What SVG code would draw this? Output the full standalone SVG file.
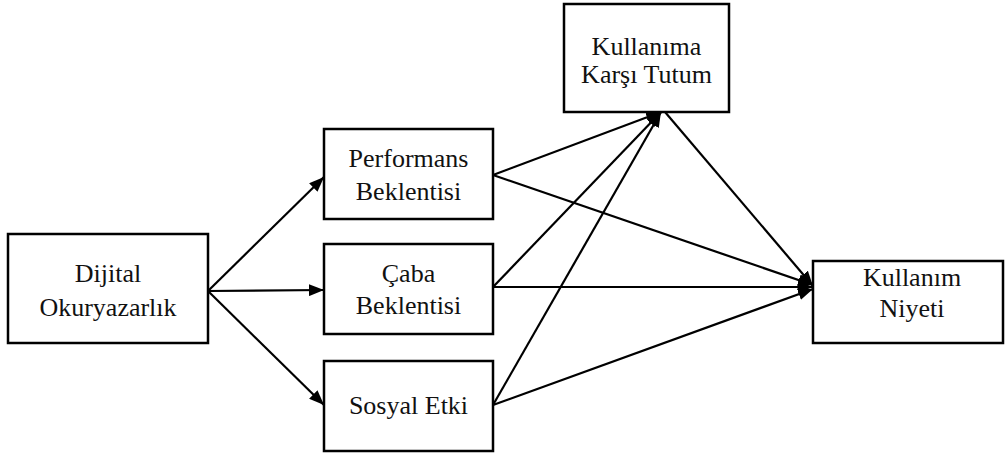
<svg xmlns="http://www.w3.org/2000/svg" width="1006" height="454" viewBox="0 0 1006 454">
<defs>
<marker id="ah" markerUnits="userSpaceOnUse" markerWidth="16" markerHeight="12" refX="15" refY="6" orient="auto">
<path d="M0,0 L15,6 L0,12 z" fill="#000"/>
</marker>
<style>
.box{fill:#fff;stroke:#000;stroke-width:2.5}
.lbl{font-family:"Liberation Serif","Times New Roman",serif;font-size:26px;fill:#111;text-anchor:middle}
.edge{stroke:#000;stroke-width:2.2;fill:none;marker-end:url(#ah)}
</style>
</defs>
<rect width="1006" height="454" fill="#fff"/>
<g id="connectors">
<line class="edge" x1="208" y1="291" x2="324" y2="177"/>
<line class="edge" x1="208" y1="291" x2="324" y2="290"/>
<line class="edge" x1="208" y1="291" x2="324" y2="405"/>
<line class="edge" x1="493" y1="175" x2="661" y2="112"/>
<line class="edge" x1="493" y1="175" x2="813" y2="285"/>
<line class="edge" x1="493" y1="287" x2="661" y2="112"/>
<line class="edge" x1="493" y1="287" x2="813" y2="287"/>
<line class="edge" x1="493" y1="405" x2="661" y2="112"/>
<line class="edge" x1="493" y1="405" x2="813" y2="289"/>
<line class="edge" x1="665" y1="112" x2="813" y2="286"/>
</g>
<g id="dijital">
<rect class="box" x="8" y="234" width="200" height="109"/>
<text class="lbl" x="108" y="282">Dijital</text>
<text class="lbl" x="108" y="316">Okuryazarlık</text>
</g>
<g id="performans">
<rect class="box" x="324" y="129" width="169" height="90"/>
<text class="lbl" x="408.5" y="167">Performans</text>
<text class="lbl" x="408.5" y="200">Beklentisi</text>
</g>
<g id="caba">
<rect class="box" x="324" y="244" width="169" height="90"/>
<text class="lbl" x="408.5" y="282">Çaba</text>
<text class="lbl" x="408.5" y="314">Beklentisi</text>
</g>
<g id="sosyal">
<rect class="box" x="324" y="361" width="169" height="90"/>
<text class="lbl" x="408.5" y="414">Sosyal Etki</text>
</g>
<g id="tutum">
<rect class="box" x="564" y="4" width="165" height="108"/>
<text class="lbl" x="646.5" y="55">Kullanıma</text>
<text class="lbl" x="646.5" y="83">Karşı Tutum</text>
</g>
<g id="niyet">
<rect class="box" x="813" y="261" width="190" height="82"/>
<text class="lbl" x="912" y="286">Kullanım</text>
<text class="lbl" x="912" y="317">Niyeti</text>
</g>
</svg>
